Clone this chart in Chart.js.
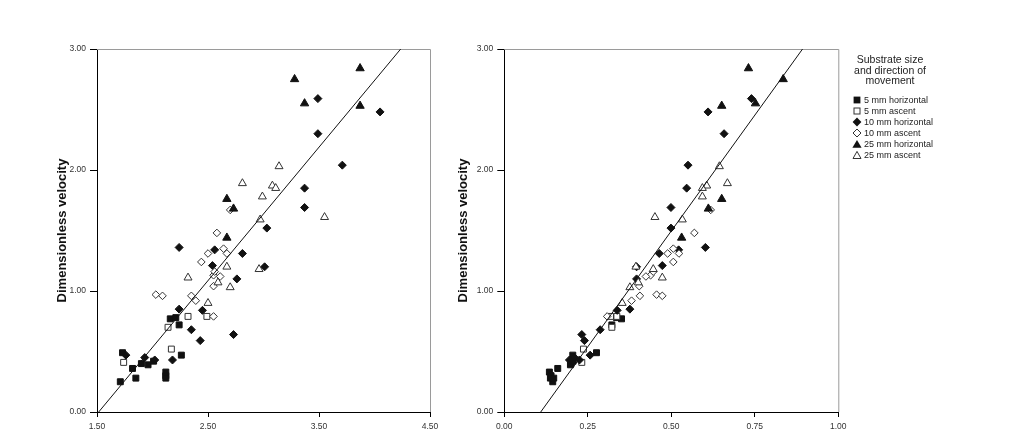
<!DOCTYPE html>
<html>
<head>
<meta charset="utf-8">
<script src="https://cdn.jsdelivr.net/npm/chart.js@4.4.1/dist/chart.umd.min.js"></script>
<style>
  html, body { margin: 0; padding: 0; background: #fff; }
  body { width: 1020px; height: 430px; position: relative; overflow: hidden;
         font-family: "Liberation Sans", Arial, sans-serif; color: #222; }
  .box { position: absolute; top: 0; height: 430px; }
  #legendTitle { position: absolute; left: 835px; top: 54px; width: 110px;
                 text-align: center; font-size: 10.5px; line-height: 10.5px; }
  #legendItems { position: absolute; left: 852px; top: 94px; font-size: 9px; }
  #legendItems div { height: 11px; display: flex; align-items: center; white-space: nowrap; }
  #legendItems svg { width: 10px; height: 10px; margin-right: 2px; }
</style>
</head>
<body>
<div class="box" style="left:0;width:445px"><canvas id="chartA" width="445" height="430"></canvas></div>
<div class="box" style="left:445px;width:415px"><canvas id="chartB" width="415" height="430"></canvas></div>
<div id="legendTitle">Substrate size<br>and direction of<br>movement</div>
<div id="legendItems"></div>

<script>
// series names (legend order)
const seriesNames = ['5 mm horizontal', '5 mm ascent', '10 mm horizontal',
                     '10 mm ascent', '25 mm horizontal', '25 mm ascent'];

// dimensionless velocity (shared by both panels), x for left panel (A) and right panel (B)
const y5h  = [0.49, 0.25, 0.36, 0.28, 0.40, 0.39, 0.42, 0.33, 0.30, 0.28, 0.77, 0.78, 0.72, 0.47];
const x5hA = [1.73, 1.71, 1.82, 1.85, 1.90, 1.96, 2.01, 2.12, 2.12, 2.12, 2.16, 2.21, 2.24, 2.26];
const x5hB = [0.276, 0.145, 0.160, 0.138, 0.200, 0.198, 0.206, 0.135, 0.140, 0.148, 0.351, 0.336, 0.322, 0.205];

const y5a  = [0.41, 0.70, 0.52, 0.79, 0.79];
const x5aA = [1.74, 2.14, 2.17, 2.32, 2.49];
const x5aB = [0.232, 0.322, 0.237, 0.337, 0.318];

const y10h  = [0.47, 0.45, 0.43, 0.43, 0.85, 0.68, 0.59, 0.84, 1.21, 1.34, 1.36, 0.64, 1.10, 1.31, 1.20, 1.52, 1.69, 1.85, 2.30, 2.59, 2.04, 2.48];
const x10hA = [1.76, 1.93, 2.02, 2.18, 2.24, 2.35, 2.43, 2.45, 2.54, 2.56, 2.24, 2.73, 2.76, 2.81, 3.01, 3.03, 3.37, 3.37, 3.49, 3.49, 3.71, 4.05];
const x10hB = [0.257, 0.210, 0.195, 0.225, 0.376, 0.287, 0.240, 0.338, 0.473, 0.522, 0.602, 0.232, 0.396, 0.464, 0.396, 0.499, 0.499, 0.546, 0.658, 0.740, 0.550, 0.610];

const y10a  = [0.97, 0.96, 0.96, 0.92, 1.24, 1.31, 1.13, 1.12, 1.04, 0.79, 1.48, 1.35, 1.31, 1.67, 1.16];
const x10aA = [2.03, 2.09, 2.35, 2.39, 2.44, 2.50, 2.55, 2.61, 2.55, 2.55, 2.58, 2.64, 2.67, 2.70, 2.56];
const x10aB = [0.456, 0.473, 0.406, 0.381, 0.506, 0.489, 0.438, 0.424, 0.404, 0.308, 0.569, 0.506, 0.523, 0.618, 0.446];

const y25h  = [2.75, 2.84, 2.55, 2.53, 1.76, 1.68, 1.44];
const x25hA = [3.28, 3.87, 3.37, 3.87, 2.67, 2.73, 2.67];
const x25hB = [0.835, 0.731, 0.752, 0.651, 0.651, 0.611, 0.531];

const y25a  = [2.03, 1.89, 1.87, 1.85, 1.78, 1.61, 1.59, 1.20, 1.18, 1.11, 1.07, 1.03, 0.90];
const x25aA = [3.14, 2.81, 3.08, 3.11, 2.99, 3.55, 2.97, 2.67, 2.96, 2.32, 2.59, 2.70, 2.50];
const x25aB = [0.644, 0.668, 0.606, 0.593, 0.593, 0.451, 0.533, 0.394, 0.446, 0.473, 0.401, 0.376, 0.353];

// fitted lines (end points)
const fitY  = [0, 3];
const fitXA = [1.515, 4.236];
const fitXB = [0.109, 0.893];

// tick labels
const yTicks  = [0, 1, 2, 3];
const xTicksA = [1.5, 2.5, 3.5, 4.5];
const xTicksB = [0, 0.25, 0.5, 0.75, 1];

const ys  = [y5h, y5a, y10h, y10a, y25h, y25a];
const xsA = [x5hA, x5aA, x10hA, x10aA, x25hA, x25aA];
const xsB = [x5hB, x5aB, x10hB, x10aB, x25hB, x25aB];

// marker styles
const shapes = ['rect', 'rect', 'rectRot', 'rectRot', 'triangle', 'triangle'];
const filled = [true, false, true, false, true, false];
const radii  = [4.2, 4.2, 4.0, 3.8, 4.8, 4.6];

const FONT = '"Liberation Sans", Arial, sans-serif';

const frame = {
  id: 'frame',
  beforeDatasetsDraw(chart) {
    const { ctx, chartArea: a } = chart;
    ctx.save();
    ctx.strokeStyle = '#9a9a9a';
    ctx.lineWidth = 1;
    ctx.beginPath();
    ctx.moveTo(a.left, a.top + 0.5);
    ctx.lineTo(a.right + 0.5, a.top + 0.5);
    ctx.lineTo(a.right + 0.5, a.bottom);
    ctx.stroke();
    ctx.restore();
  }
};

function makeChart(id, xs, fitX, xTicks, padRight, yWidth, titlePad) {
  const datasets = [{
    type: 'line',
    label: 'fit',
    data: fitX.map((x, i) => ({ x: x, y: fitY[i] })),
    borderColor: '#111',
    borderWidth: 1,
    pointRadius: 0,
    order: 0
  }];
  seriesNames.forEach((name, i) => {
    datasets.push({
      label: name,
      data: xs[i].map((x, j) => ({ x: x, y: ys[i][j] })),
      pointStyle: shapes[i],
      pointRadius: radii[i],
      backgroundColor: filled[i] ? '#111' : '#fff',
      borderColor: filled[i] ? '#111' : '#333',
      borderWidth: 1,
      order: 6 - i
    });
  });

  const xMin = xTicks[0], xMax = xTicks[xTicks.length - 1];
  return new Chart(document.getElementById(id), {
    type: 'scatter',
    data: { datasets: datasets },
    options: {
      responsive: false,
      animation: false,
      events: [],
      layout: { padding: { left: 0, right: padRight, top: 49, bottom: 0 } },
      plugins: { legend: { display: false }, tooltip: { enabled: false } },
      scales: {
        x: {
          type: 'linear',
          min: xMin, max: xMax,
          afterBuildTicks: s => { s.ticks = xTicks.map(v => ({ value: v })); },
          afterFit: s => { s.height = 18; },
          grid: { display: true, drawOnChartArea: false, drawTicks: true, tickLength: 5, color: '#000' },
          border: { display: true, color: '#000', width: 1 },
          ticks: { padding: 5, color: '#333', maxRotation: 0, autoSkip: false,
                   font: { family: FONT, size: 8.5 },
                   callback: v => v.toFixed(2) }
        },
        y: {
          min: 0, max: 3,
          afterBuildTicks: s => { s.ticks = yTicks.map(v => ({ value: v })); },
          afterFit: s => { s.width = yWidth; },
          grid: { display: true, drawOnChartArea: false, drawTicks: true, tickLength: 7, color: '#000' },
          border: { display: true, color: '#000', width: 1 },
          ticks: { padding: 4, color: '#333', autoSkip: false,
                   font: { family: FONT, size: 8.5 },
                   callback: v => v.toFixed(2) },
          title: { display: true, text: 'Dimensionless velocity', color: '#111',
                   padding: { top: titlePad, bottom: 0 },
                   font: { family: FONT, size: 13, weight: 'bold' } }
        }
      }
    },
    plugins: [frame]
  });
}

makeChart('chartA', xsA, fitXA, xTicksA, 15, 97, 55);
makeChart('chartB', xsB, fitXB, xTicksB, 21.7, 59.3, 10.2);

// legend
const svgShapes = [
  '<rect x="1.6" y="1.6" width="6.8" height="6.8" fill="#111"/>',
  '<rect x="2" y="2" width="6" height="6" fill="#fff" stroke="#333" stroke-width="1"/>',
  '<polygon points="5,0.6 9.4,5 5,9.4 0.6,5" fill="#111"/>',
  '<polygon points="5,1 9,5 5,9 1,5" fill="#fff" stroke="#333" stroke-width="1"/>',
  '<polygon points="5,1 9.6,8.8 0.4,8.8" fill="#111"/>',
  '<polygon points="5,1.4 9,8.5 1,8.5" fill="#fff" stroke="#333" stroke-width="1"/>'
];
const legendBox = document.getElementById('legendItems');
seriesNames.forEach((name, i) => {
  const row = document.createElement('div');
  row.innerHTML = '<svg viewBox="0 0 10 10">' + svgShapes[i] + '</svg><span>' + name + '</span>';
  legendBox.appendChild(row);
});
</script>
</body>
</html>
